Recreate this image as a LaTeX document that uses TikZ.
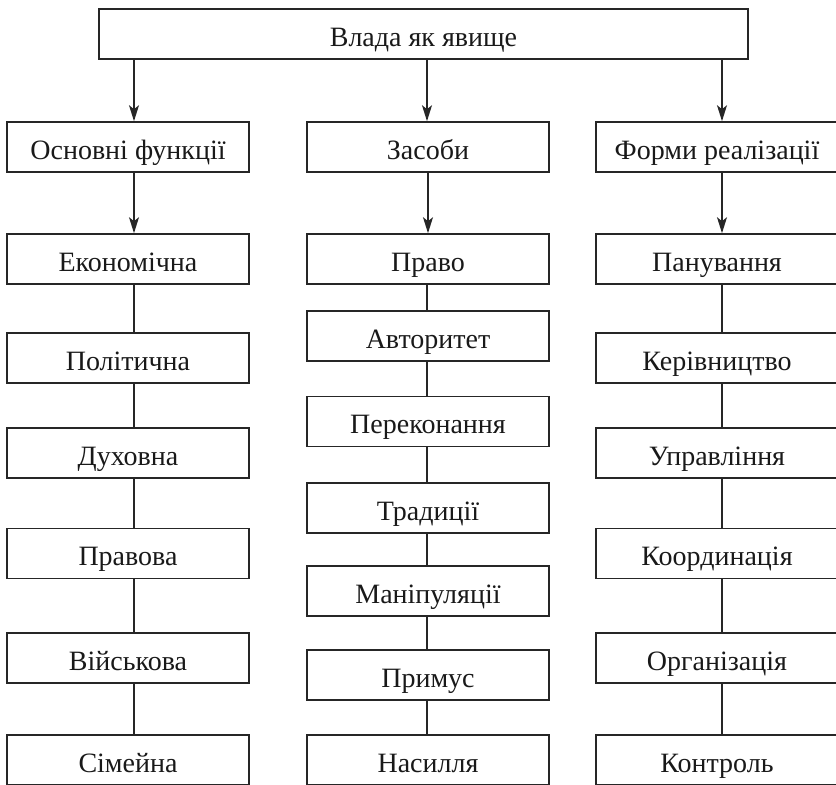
\documentclass[tikz,border=0pt]{standalone}
\usepackage{fontspec}
\setmainfont{Liberation Serif}
\usetikzlibrary{arrows.meta}

\begin{document}
\begin{tikzpicture}[x=0.5pt, y=-0.5pt,
    box/.style = {draw=black!85, line width=0.8pt, minimum width=121pt, minimum height=25pt,
                  inner sep=0pt, text height=12pt, text depth=0pt, text=black!90,
                  font=\fontsize{14}{16}\selectfont},
    arr/.style = {draw=black!85, line width=0.8pt, -{Stealth[length=8pt, width=5pt, inset=2pt]}},
    ln/.style = {draw=black!85, line width=0.8pt}]
        \useasboundingbox (0,0) rectangle (836,784);
        \node[box, minimum width=324.5pt] (vl) at (423.5,34) {Влада як явище};
        %
        \node[box] (fn) at (128,147) {Основні функції};
        \node[box] (zs) at (428,147) {Засоби};
        \node[box] (fr) at (717,147) {Форми реалізації};
        %
        \node[box] (f1) at (128,259) {Економічна};
        \node[box] (f2) at (128,358) {Політична};
        \node[box] (f3) at (128,453) {Духовна};
        \node[box] (f4) at (128,553.5) {Правова};
        \node[box] (f5) at (128,658) {Військова};
        \node[box] (f6) at (128,760) {Сімейна};
        %
        \node[box] (z1) at (428,259) {Право};
        \node[box] (z2) at (428,336) {Авторитет};
        \node[box] (z3) at (428,421.5) {Переконання};
        \node[box] (z4) at (428,508) {Традиції};
        \node[box] (z5) at (428,591) {Маніпуляції};
        \node[box] (z6) at (428,675) {Примус};
        \node[box] (z7) at (428,760) {Насилля};
        %
        \node[box] (r1) at (717,259) {Панування};
        \node[box] (r2) at (717,358) {Керівництво};
        \node[box] (r3) at (717,453) {Управління};
        \node[box] (r4) at (717,553.5) {Координація};
        \node[box] (r5) at (717,658) {Організація};
        \node[box] (r6) at (717,760) {Контроль};
        %
        \coordinate (xf) at ([xshift=3pt]fn.north);
        \coordinate (xz) at ([xshift=-0.5pt]zs.north);
        \coordinate (xr) at ([xshift=2.5pt]fr.north);
        \draw[arr] (vl.south -| xf) -- (xf);
        \draw[arr] (vl.south -| xz) -- (xz);
        \draw[arr] (vl.south -| xr) -- (xr);
        \draw[arr] ([xshift=3pt]fn.south) -- ([xshift=3pt]f1.north);
        \draw[arr] (zs.south) -- (z1.north);
        \draw[arr] ([xshift=2.5pt]fr.south) -- ([xshift=2.5pt]r1.north);
        %
        \foreach \a/\b in {f1/f2, f2/f3, f3/f4, f4/f5, f5/f6}
            \draw[ln] ([xshift=3pt]\a.south) -- ([xshift=3pt]\b.north);
        \foreach \a/\b in {z1/z2, z2/z3, z3/z4, z4/z5, z5/z6, z6/z7}
            \draw[ln] ([xshift=-0.5pt]\a.south) -- ([xshift=-0.5pt]\b.north);
        \foreach \a/\b in {r1/r2, r2/r3, r3/r4, r4/r5, r5/r6}
            \draw[ln] ([xshift=2.5pt]\a.south) -- ([xshift=2.5pt]\b.north);
      \end{tikzpicture}
\end{document}
